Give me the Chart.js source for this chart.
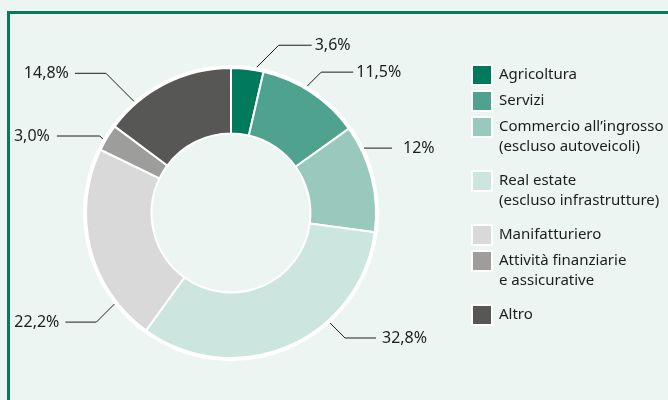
<!DOCTYPE html>
<html lang="it">
<head>
    <meta charset="UTF-8">
    <title>Ripartizione per settore</title>
    <style>
        html, body {
            margin: 0;
            padding: 0;
            background: #edf5f3;
        }
        #wrap {
            width: 668px;
            height: 400px;
            position: relative;
        }
    </style>
</head>
<body>
    <div id="wrap">
        <canvas id="myChart" width="668" height="400"></canvas>
    </div>

    <script src="https://cdn.jsdelivr.net/npm/chart.js"></script>
    <script>
        // dati
        const categories = [
            'Agricoltura',
            'Servizi',
            'Commercio all\u2019ingrosso\n(escluso autoveicoli)',
            'Real estate\n(escluso infrastrutture)',
            'Manifatturiero',
            'Attività finanziarie\ne assicurative',
            'Altro'
        ];
        const shares = [3.6, 11.5, 12, 32.8, 22.2, 3.0, 14.8];
        const shareLabels = ['3,6%', '11,5%', '12%', '32,8%', '22,2%', '3,0%', '14,8%'];
        const sliceColors = ['#00795c', '#4fa28d', '#98c9bc', '#cce5df', '#d9d9d9', '#9d9d9c', '#575756'];

        const FONT = '15px "Noto Sans", sans-serif';
        const LABEL_FONT = '16px "Noto Sans", sans-serif';
        const TEXT = '#1d1d1b';

        // cornice verde + anello bianco esterno
        const framePlugin = {
            id: 'frame',
            beforeDraw(chart) {
                const ctx = chart.ctx;
                ctx.save();
                ctx.fillStyle = '#edf5f3';
                ctx.fillRect(0, 0, chart.width, chart.height);
                ctx.strokeStyle = '#08795d';
                ctx.lineWidth = 3;
                ctx.beginPath();
                ctx.moveTo(8.5, chart.height);
                ctx.lineTo(8.5, 12.5);
                ctx.lineTo(chart.width, 12.5);
                ctx.stroke();
                ctx.restore();
            },
            beforeDatasetsDraw(chart) {
                const arc = chart.getDatasetMeta(0).data[0];
                if (!arc) return;
                const ctx = chart.ctx;
                ctx.save();
                ctx.fillStyle = '#ffffff';
                ctx.beginPath();
                ctx.arc(arc.x, arc.y, arc.outerRadius + 3, 0, Math.PI * 2);
                ctx.arc(arc.x, arc.y, arc.innerRadius, 0, Math.PI * 2, true);
                ctx.fill();
                ctx.restore();
            }
        };

        // etichette esterne con linee di richiamo
        const calloutPlugin = {
            id: 'callouts',
            afterDatasetsDraw(chart, args, opts) {
                const ctx = chart.ctx;
                const meta = chart.getDatasetMeta(0);
                ctx.save();
                ctx.font = LABEL_FONT;
                ctx.fillStyle = TEXT;
                ctx.strokeStyle = '#1d1d1b';
                ctx.lineWidth = 1;
                ctx.textBaseline = 'middle';
                meta.data.forEach((arc, i) => {
                    // angolo di attacco (gradi dall'alto, senso orario)
                    const a = (opts.angles[i] - 90) * Math.PI / 180;
                    const r0 = arc.outerRadius + 3;
                    const x0 = arc.x + Math.cos(a) * r0;
                    const y0 = arc.y + Math.sin(a) * r0;
                    const right = Math.cos(a) >= 0;
                    const d = opts.diag[i];
                    const x1 = x0 + (right ? d : -d);
                    const y1 = y0 + (Math.sin(a) >= 0 ? d : -d);
                    const run = opts.run[i];
                    const x2 = right ? x1 + run : x1 - run;
                    ctx.beginPath();
                    ctx.moveTo(x0, y0);
                    ctx.lineTo(x1, y1);
                    ctx.lineTo(x2, y1);
                    ctx.stroke();
                    ctx.textAlign = right ? 'left' : 'right';
                    ctx.fillText(shareLabels[i], right ? x2 + opts.gap[i] : x2 - opts.gap[i], y1);
                });
                ctx.restore();
            }
        };

        // legenda a destra
        const legendPlugin = {
            id: 'sideLegend',
            afterDraw(chart) {
                const ctx = chart.ctx;
                ctx.save();
                ctx.font = FONT;
                ctx.textBaseline = 'middle';
                ctx.textAlign = 'left';
                let y = 75;
                categories.forEach((cat, i) => {
                    const lines = cat.split('\n');
                    ctx.fillStyle = '#ffffff';
                    ctx.fillRect(471, y - 11, 22, 22);
                    ctx.fillStyle = sliceColors[i];
                    ctx.fillRect(473, y - 9, 18, 18);
                    ctx.fillStyle = TEXT;
                    lines.forEach((ln, j) => ctx.fillText(ln, 499, y + j * 20));
                    y += lines.length > 1 ? 54 : 26;
                });
                ctx.restore();
            }
        };

        const ctx = document.getElementById('myChart').getContext('2d');
        const myChart = new Chart(ctx, {
            type: 'doughnut',
            data: {
                labels: categories,
                datasets: [{
                    data: shares,
                    backgroundColor: sliceColors,
                    borderColor: '#ffffff',
                    borderWidth: 2
                }]
            },
            options: {
                responsive: false,
                animation: false,
                radius: 145,
                cutout: 80,
                layout: {
                    padding: { left: 84, right: 290, top: 66, bottom: 40 }
                },
                plugins: {
                    legend: { display: false },
                    tooltip: { enabled: false },
                    callouts: {
                        angles: [10, 31, 64, 138, 232, 300, 319],
                        diag: [22, 14, 0, 15, 18, 3, 28],
                        run: [33, 32, 28, 31, 31, 43, 31],
                        gap: [3, 3, 11, 6, 6, 7, 6]
                    }
                }
            },
            plugins: [framePlugin, calloutPlugin, legendPlugin]
        });
    </script>
</body>
</html>
